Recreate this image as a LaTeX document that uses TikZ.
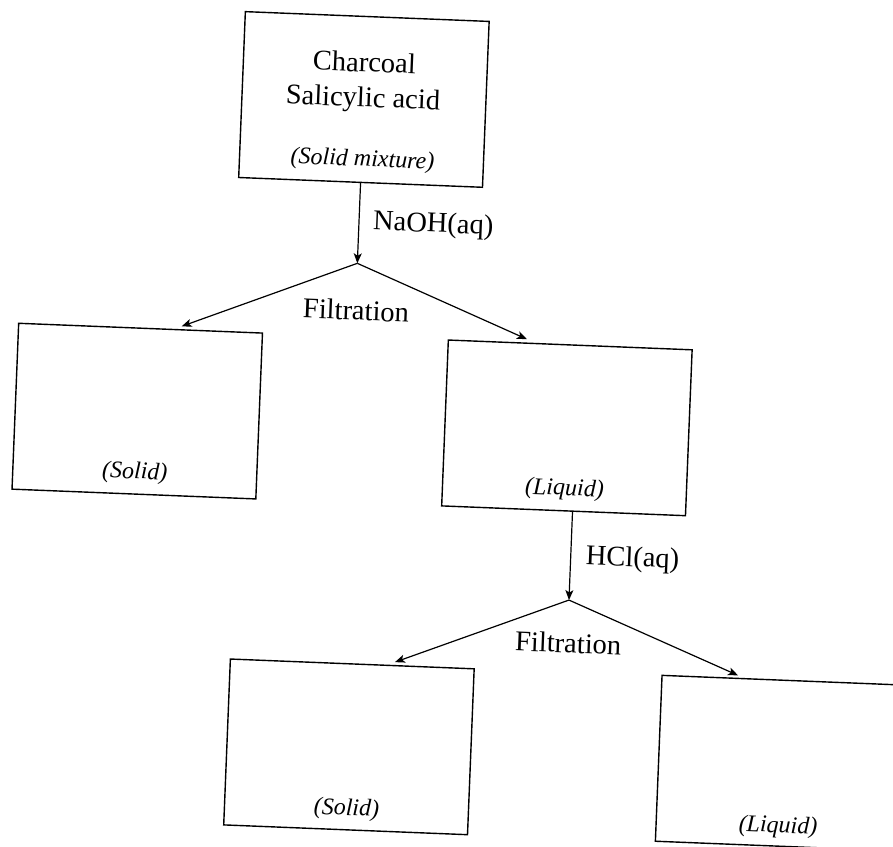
\documentclass[tikz,border=0pt]{standalone}
\usepackage{fontspec}
\setmainfont{Liberation Serif}
\usetikzlibrary{arrows.meta}
\begin{document}
\begin{tikzpicture}[x=1pt,y=-1pt,
  box/.style={draw, line width=1.4pt, minimum width=244pt, minimum height=166pt, inner sep=0pt},
  conn/.style={line width=1.2pt, -{Stealth[length=10pt,width=8pt,inset=2.5pt]}},
  main/.style={font=\fontsize{28.5}{35}\selectfont, align=center, inner sep=0pt},
  sub/.style={font=\fontsize{24}{28}\selectfont\itshape, inner sep=0pt}]
\clip (0,0) rectangle (893,846);
\begin{scope}[rotate around={-2.3:(446,423)}, transform shape]
  % boxes
  \node[box] (mix) at (351,103) {};
  \node[box] (s1) at (137,423.5) {};
  \node[box] (l1) at (567,423) {};
  \node[box] (s2) at (362,750.5) {};
  \node[box] (l2) at (794,749.5) {};
  % texts in boxes
  \node[main] (mixtxt) at (350,86) {Charcoal\\Salicylic acid};
  \node[sub] (mixlab) at (352,164) {(Solid mixture)};
  \node[sub] (s1lab) at ([yshift=22pt]s1.south) {(Solid)};
  \node[sub] (l1lab) at ([yshift=22pt]l1.south) {(Liquid)};
  \node[sub] (s2lab) at ([yshift=21pt]s2.south) {(Solid)};
  \node[sub] (l2lab) at ([yshift=20pt]l2.south) {(Liquid)};
  % branch points and arrow ends
  \coordinate (f1) at (351,267);
  \coordinate (f1l) at (178,337);
  \coordinate (f1r) at (523.5,336);
  \coordinate (l1out) at ([xshift=9pt]l1.south);
  \coordinate (f2) at (576,595);
  \coordinate (f2l) at (404.6,664);
  \coordinate (f2r) at (748,663.5);
  % connectors
  \draw[conn] (mix.south) -- (f1);
  \draw[conn] (f1) -- (f1l);
  \draw[conn] (f1) -- (f1r);
  \draw[conn] (l1out) -- (f2);
  \draw[conn] (f2) -- (f2l);
  \draw[conn] (f2) -- (f2r);
  % labels
  \node[main, anchor=west] (naoh) at (365,226) {NaOH(aq)};
  \node[main] (filt1) at (351.6,314) {Filtration};
  \node[main, anchor=west] (hcl) at (591,552) {HCl(aq)};
  \node[main] (filt2) at (577,638) {Filtration};
\end{scope}
\end{tikzpicture}
\end{document}
